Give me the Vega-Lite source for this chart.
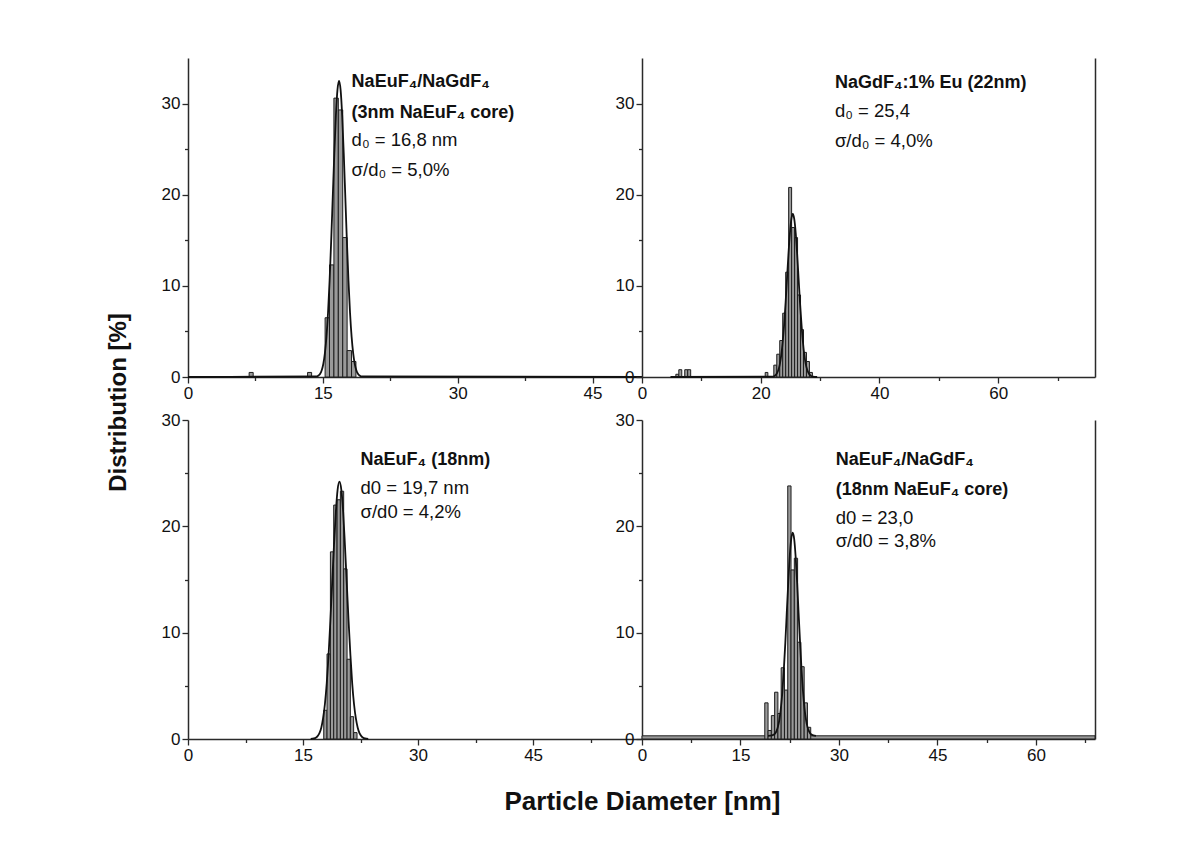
{
 "$schema": "https://vega.github.io/schema/vega-lite/v6.json",
 "background": "white",
 "padding": {"left": 106, "top": 58, "right": 5, "bottom": 5},
 "config": {
  "font": "Liberation Sans",
  "view": {"stroke": null},
  "text": {"font": "Liberation Sans"},
  "axis": {"grid": false, "domainColor": "#2a2a2a", "domainWidth": 1.5, "tickColor": "#2a2a2a", "tickWidth": 1.3, "tickSize": 5,
   "labelFont": "Liberation Sans", "labelFontSize": 17, "labelColor": "#111", "labelPadding": 2,
   "labelOverlap": false, "labelFlush": false, "labelBound": false,
   "titleFont": "Liberation Sans", "titleFontSize": 24, "titleFontWeight": "bold", "titleColor": "#111"}
 },
 "datasets": {
  "histA": [{"lo":6.8,"hi":7.25,"pct":0.5},{"lo":13.3,"hi":13.75,"pct":0.5},{"lo":15.25,"hi":15.74,"pct":6.5},{"lo":15.74,"hi":16.23,"pct":12.3},{"lo":16.23,"hi":16.72,"pct":30.6},{"lo":16.72,"hi":17.21,"pct":29.3},{"lo":17.21,"hi":17.7,"pct":15.3},{"lo":17.7,"hi":18.19,"pct":2.9},{"lo":18.19,"hi":18.68,"pct":1.7}],
  "fitA": [{"d":0,"pct":0},{"d":14.35,"pct":0.07},{"d":14.525,"pct":0.17},{"d":14.7,"pct":0.36},{"d":14.875,"pct":0.74},{"d":15.05,"pct":1.43},{"d":15.225,"pct":2.59},{"d":15.4,"pct":4.4},{"d":15.575,"pct":7.03},{"d":15.75,"pct":10.55},{"d":15.925,"pct":14.88},{"d":16.1,"pct":19.71},{"d":16.275,"pct":24.53},{"d":16.45,"pct":28.68},{"d":16.625,"pct":31.5},{"d":16.8,"pct":32.5},{"d":16.975,"pct":31.5},{"d":17.15,"pct":28.68},{"d":17.325,"pct":24.53},{"d":17.5,"pct":19.71},{"d":17.675,"pct":14.88},{"d":17.85,"pct":10.55},{"d":18.025,"pct":7.03},{"d":18.2,"pct":4.4},{"d":18.375,"pct":2.59},{"d":18.55,"pct":1.43},{"d":18.725,"pct":0.74},{"d":18.9,"pct":0.36},{"d":19.075,"pct":0.17},{"d":19.25,"pct":0.07},{"d":50.5,"pct":0}],
  "labA": [{"d":18.2,"pct":31.8,"text":"NaEuF₄/NaGdF₄","kind":"head"},{"d":18.2,"pct":28.4,"text":"(3nm NaEuF₄ core)","kind":"head"},{"d":18.2,"pct":25.3,"text":"d₀ = 16,8 nm","kind":"stat"},{"d":18.2,"pct":22.0,"text":"σ/d₀ = 5,0%","kind":"stat"}],
  "histB": [{"lo":5.7,"hi":6.2,"pct":0.3},{"lo":6.2,"hi":6.7,"pct":0.8},{"lo":7.2,"hi":7.7,"pct":0.8},{"lo":7.7,"hi":8.2,"pct":0.8},{"lo":20.75,"hi":21.2,"pct":0.5},{"lo":22.2,"hi":22.7,"pct":1.3},{"lo":22.7,"hi":23.2,"pct":2.5},{"lo":23.2,"hi":23.7,"pct":4.0},{"lo":23.7,"hi":24.2,"pct":7.0},{"lo":24.2,"hi":24.7,"pct":11.5},{"lo":24.7,"hi":25.2,"pct":20.8},{"lo":25.2,"hi":25.7,"pct":16.4},{"lo":25.7,"hi":26.2,"pct":15.3},{"lo":26.2,"hi":26.7,"pct":9.0},{"lo":26.7,"hi":27.2,"pct":5.2},{"lo":27.2,"hi":27.7,"pct":2.7},{"lo":27.7,"hi":28.2,"pct":1.7},{"lo":28.2,"hi":28.7,"pct":0.5}],
  "fitB": [{"d":4.8,"pct":0},{"d":22.0,"pct":0.04},{"d":22.25,"pct":0.09},{"d":22.49,"pct":0.2},{"d":22.73,"pct":0.41},{"d":22.98,"pct":0.79},{"d":23.22,"pct":1.42},{"d":23.46,"pct":2.42},{"d":23.7,"pct":3.87},{"d":23.95,"pct":5.81},{"d":24.19,"pct":8.19},{"d":24.43,"pct":10.86},{"d":24.67,"pct":13.51},{"d":24.92,"pct":15.8},{"d":25.16,"pct":17.35},{"d":25.4,"pct":17.9},{"d":25.64,"pct":17.35},{"d":25.89,"pct":15.8},{"d":26.13,"pct":13.51},{"d":26.37,"pct":10.86},{"d":26.61,"pct":8.19},{"d":26.86,"pct":5.81},{"d":27.1,"pct":3.87},{"d":27.34,"pct":2.42},{"d":27.58,"pct":1.42},{"d":27.83,"pct":0.79},{"d":28.07,"pct":0.41},{"d":28.31,"pct":0.2},{"d":28.55,"pct":0.09},{"d":28.8,"pct":0.04},{"d":29.5,"pct":0}],
  "labB": [{"d":32.5,"pct":31.7,"text":"NaGdF₄:1% Eu (22nm)","kind":"head"},{"d":32.5,"pct":28.5,"text":"d₀ = 25,4","kind":"stat"},{"d":32.5,"pct":25.2,"text":"σ/d₀ = 4,0%","kind":"stat"}],
  "histC": [{"lo":17.7,"hi":18.13,"pct":2.7},{"lo":18.13,"hi":18.57,"pct":8.0},{"lo":18.57,"hi":19.0,"pct":17.6},{"lo":19.0,"hi":19.44,"pct":22.0},{"lo":19.44,"hi":19.87,"pct":22.5},{"lo":19.87,"hi":20.3,"pct":23.3},{"lo":20.3,"hi":20.74,"pct":16.0},{"lo":20.74,"hi":21.17,"pct":7.5},{"lo":21.17,"hi":21.6,"pct":2.1},{"lo":21.6,"hi":22.04,"pct":0.6}],
  "fitC": [{"d":16.0,"pct":0},{"d":16.43,"pct":0.05},{"d":16.66,"pct":0.12},{"d":16.9,"pct":0.27},{"d":17.14,"pct":0.55},{"d":17.38,"pct":1.06},{"d":17.61,"pct":1.93},{"d":17.85,"pct":3.27},{"d":18.09,"pct":5.23},{"d":18.33,"pct":7.86},{"d":18.56,"pct":11.08},{"d":18.8,"pct":14.68},{"d":19.04,"pct":18.27},{"d":19.28,"pct":21.36},{"d":19.51,"pct":23.45},{"d":19.75,"pct":24.2},{"d":19.99,"pct":23.45},{"d":20.23,"pct":21.36},{"d":20.46,"pct":18.27},{"d":20.7,"pct":14.68},{"d":20.94,"pct":11.08},{"d":21.18,"pct":7.86},{"d":21.41,"pct":5.23},{"d":21.65,"pct":3.27},{"d":21.89,"pct":1.93},{"d":22.13,"pct":1.06},{"d":22.36,"pct":0.55},{"d":22.6,"pct":0.27},{"d":22.84,"pct":0.12},{"d":23.08,"pct":0.05},{"d":23.5,"pct":0}],
  "labC": [{"d":22.5,"pct":25.8,"text":"NaEuF₄ (18nm)","kind":"head"},{"d":22.5,"pct":23.0,"text":"d0 = 19,7 nm","kind":"stat"},{"d":22.5,"pct":20.8,"text":"σ/d0 = 4,2%","kind":"stat"}],
  "histD": [{"lo":0,"hi":69,"pct":0.3},{"lo":18.7,"hi":19.2,"pct":3.4},{"lo":19.2,"hi":19.7,"pct":0.8},{"lo":19.7,"hi":20.2,"pct":2.2},{"lo":20.2,"hi":20.7,"pct":4.4},{"lo":20.7,"hi":21.2,"pct":2.4},{"lo":21.2,"hi":21.7,"pct":6.7},{"lo":21.7,"hi":22.2,"pct":4.6},{"lo":22.2,"hi":22.7,"pct":23.8},{"lo":22.7,"hi":23.2,"pct":15.9},{"lo":23.2,"hi":23.7,"pct":17.0},{"lo":23.7,"hi":24.2,"pct":9.1},{"lo":24.2,"hi":24.7,"pct":6.8},{"lo":24.7,"hi":25.2,"pct":3.4},{"lo":25.2,"hi":25.7,"pct":1.1}],
  "fitD": [{"d":19.2,"pct":0.3},{"d":19.8,"pct":0.34},{"d":20.03,"pct":0.4},{"d":20.25,"pct":0.51},{"d":20.48,"pct":0.74},{"d":20.7,"pct":1.14},{"d":20.93,"pct":1.82},{"d":21.15,"pct":2.88},{"d":21.38,"pct":4.43},{"d":21.6,"pct":6.5},{"d":21.83,"pct":9.04},{"d":22.05,"pct":11.88},{"d":22.28,"pct":14.72},{"d":22.5,"pct":17.16},{"d":22.73,"pct":18.81},{"d":22.95,"pct":19.4},{"d":23.18,"pct":18.81},{"d":23.4,"pct":17.16},{"d":23.63,"pct":14.72},{"d":23.85,"pct":11.88},{"d":24.08,"pct":9.04},{"d":24.3,"pct":6.5},{"d":24.53,"pct":4.43},{"d":24.75,"pct":2.88},{"d":24.98,"pct":1.82},{"d":25.2,"pct":1.14},{"d":25.43,"pct":0.74},{"d":25.65,"pct":0.51},{"d":25.88,"pct":0.4},{"d":26.1,"pct":0.34},{"d":26.5,"pct":0.3}],
  "labD": [{"d":29.5,"pct":25.8,"text":"NaEuF₄/NaGdF₄","kind":"head"},{"d":29.5,"pct":22.9,"text":"(18nm NaEuF₄ core)","kind":"head"},{"d":29.5,"pct":20.2,"text":"d0 = 23,0","kind":"stat"},{"d":29.5,"pct":18.1,"text":"σ/d0 = 3,8%","kind":"stat"}]
 },
 "columns": 2,
 "spacing": {"row": 43, "column": 0},
 "bounds": "flush",
 "concat": [
  {
   "width": 454, "height": 319,
   "layer": [
    {"data": {"name": "histA"}, "mark": {"type": "rect", "fill": "#9a9a9a", "stroke": "#1e1e1e", "strokeWidth": 1},
     "encoding": {
      "x": {"field": "lo", "type": "quantitative", "title": null, "scale": {"domain": [0, 50.5], "nice": false, "zero": false},
       "axis": {"values": [0,7.5,15,22.5,30,37.5,45], "labelExpr": "datum.value % 15 === 0 ? datum.label : ''",
        "tickSize": {"condition": {"test": "datum.value % 15 === 0", "value": 6}, "value": 3.5}}},
      "x2": {"field": "hi"},
      "y": {"field": "pct", "type": "quantitative", "title": "Distribution [%]", "scale": {"domain": [0, 35], "nice": false},
       "axis": {"titleX": -70, "titleY": 344, "titleAngle": 270, "titleAlign": "center", "titleBaseline": "middle",
        "values": [0,5,10,15,20,25,30], "labelExpr": "datum.value % 10 === 0 ? datum.label : ''",
        "tickSize": {"condition": {"test": "datum.value % 10 === 0", "value": 6}, "value": 3.5}}},
      "y2": {"datum": 0}
     }},
    {"data": {"name": "fitA"}, "mark": {"type": "line", "color": "#111", "strokeWidth": 1.8, "interpolate": "monotone"},
     "encoding": {"x": {"field": "d", "type": "quantitative", "title": null}, "y": {"field": "pct", "type": "quantitative", "title": "Distribution [%]"}}},
    {"data": {"name": "labA"}, "transform": [{"filter": "datum.kind === 'head'"}],
     "mark": {"type": "text", "align": "left", "baseline": "alphabetic", "fontSize": 18, "fontWeight": "bold", "color": "#111"},
     "encoding": {"x": {"field": "d", "type": "quantitative", "title": null}, "y": {"field": "pct", "type": "quantitative", "title": "Distribution [%]"}, "text": {"field": "text"}}},
    {"data": {"name": "labA"}, "transform": [{"filter": "datum.kind === 'stat'"}],
     "mark": {"type": "text", "align": "left", "baseline": "alphabetic", "fontSize": 18.5, "color": "#111"},
     "encoding": {"x": {"field": "d", "type": "quantitative", "title": null}, "y": {"field": "pct", "type": "quantitative", "title": "Distribution [%]"}, "text": {"field": "text"}}}
   ]
  },
  {
   "width": 453, "height": 319,
   "resolve": {"axis": {"y": "independent"}},
   "layer": [
    {"data": {"name": "histB"}, "mark": {"type": "rect", "fill": "#9a9a9a", "stroke": "#1e1e1e", "strokeWidth": 1},
     "encoding": {
      "x": {"field": "lo", "type": "quantitative", "title": null, "scale": {"domain": [0, 76.3], "nice": false, "zero": false},
       "axis": {"values": [0,10,20,30,40,50,60,70], "labelExpr": "datum.value % 20 === 0 ? datum.label : ''",
        "tickSize": {"condition": {"test": "datum.value % 20 === 0", "value": 6}, "value": 3.5}}},
      "x2": {"field": "hi"},
      "y": {"field": "pct", "type": "quantitative", "title": null, "scale": {"domain": [0, 35], "nice": false},
       "axis": {"values": [0,5,10,15,20,25,30], "labelExpr": "datum.value % 10 === 0 ? datum.label : ''",
        "tickSize": {"condition": {"test": "datum.value % 10 === 0", "value": 6}, "value": 3.5}}},
      "y2": {"datum": 0}
     }},
    {"data": {"name": "fitB"}, "mark": {"type": "line", "color": "#111", "strokeWidth": 1.8, "interpolate": "monotone"},
     "encoding": {"x": {"field": "d", "type": "quantitative", "title": null},
      "y": {"field": "pct", "type": "quantitative", "title": null, "axis": {"orient": "right", "labels": false, "ticks": false}}}},
    {"data": {"name": "labB"}, "transform": [{"filter": "datum.kind === 'head'"}],
     "mark": {"type": "text", "align": "left", "baseline": "alphabetic", "fontSize": 18, "fontWeight": "bold", "color": "#111"},
     "encoding": {"x": {"field": "d", "type": "quantitative", "title": null}, "y": {"field": "pct", "type": "quantitative", "axis": null}, "text": {"field": "text"}}},
    {"data": {"name": "labB"}, "transform": [{"filter": "datum.kind === 'stat'"}],
     "mark": {"type": "text", "align": "left", "baseline": "alphabetic", "fontSize": 18.5, "color": "#111"},
     "encoding": {"x": {"field": "d", "type": "quantitative", "title": null}, "y": {"field": "pct", "type": "quantitative", "axis": null}, "text": {"field": "text"}}}
   ]
  },
  {
   "width": 454, "height": 319,
   "layer": [
    {"data": {"name": "histC"}, "mark": {"type": "rect", "fill": "#9a9a9a", "stroke": "#1e1e1e", "strokeWidth": 1},
     "encoding": {
      "x": {"field": "lo", "type": "quantitative", "title": "Particle Diameter [nm]", "scale": {"domain": [0, 59.2], "nice": false, "zero": false},
       "axis": {"titleX": 454, "titleY": 62, "titleAlign": "center", "titleBaseline": "middle", "titleFontSize": 26,
        "values": [0,7.5,15,22.5,30,37.5,45,52.5], "labelExpr": "datum.value % 15 === 0 ? datum.label : ''",
        "tickSize": {"condition": {"test": "datum.value % 15 === 0", "value": 6}, "value": 3.5}}},
      "x2": {"field": "hi"},
      "y": {"field": "pct", "type": "quantitative", "title": null, "scale": {"domain": [0, 30], "nice": false},
       "axis": {"values": [0,5,10,15,20,25,30], "labelExpr": "datum.value % 10 === 0 ? datum.label : ''",
        "tickSize": {"condition": {"test": "datum.value % 10 === 0", "value": 6}, "value": 3.5}}},
      "y2": {"datum": 0}
     }},
    {"data": {"name": "fitC"}, "mark": {"type": "line", "color": "#111", "strokeWidth": 1.8, "interpolate": "monotone"},
     "encoding": {"x": {"field": "d", "type": "quantitative", "title": "Particle Diameter [nm]"}, "y": {"field": "pct", "type": "quantitative", "title": null}}},
    {"data": {"name": "labC"}, "transform": [{"filter": "datum.kind === 'head'"}],
     "mark": {"type": "text", "align": "left", "baseline": "alphabetic", "fontSize": 18, "fontWeight": "bold", "color": "#111"},
     "encoding": {"x": {"field": "d", "type": "quantitative", "title": "Particle Diameter [nm]"}, "y": {"field": "pct", "type": "quantitative", "title": null}, "text": {"field": "text"}}},
    {"data": {"name": "labC"}, "transform": [{"filter": "datum.kind === 'stat'"}],
     "mark": {"type": "text", "align": "left", "baseline": "alphabetic", "fontSize": 18.5, "color": "#111"},
     "encoding": {"x": {"field": "d", "type": "quantitative", "title": "Particle Diameter [nm]"}, "y": {"field": "pct", "type": "quantitative", "title": null}, "text": {"field": "text"}}}
   ]
  },
  {
   "width": 453, "height": 319,
   "resolve": {"axis": {"y": "independent"}},
   "layer": [
    {"data": {"name": "histD"}, "mark": {"type": "rect", "fill": "#9a9a9a", "stroke": "#1e1e1e", "strokeWidth": 1},
     "encoding": {
      "x": {"field": "lo", "type": "quantitative", "title": null, "scale": {"domain": [0, 69], "nice": false, "zero": false},
       "axis": {"values": [0,7.5,15,22.5,30,37.5,45,52.5,60,67.5], "labelExpr": "datum.value % 15 === 0 ? datum.label : ''",
        "tickSize": {"condition": {"test": "datum.value % 15 === 0", "value": 6}, "value": 3.5}}},
      "x2": {"field": "hi"},
      "y": {"field": "pct", "type": "quantitative", "title": null, "scale": {"domain": [0, 30], "nice": false},
       "axis": {"values": [0,5,10,15,20,25,30], "labelExpr": "datum.value % 10 === 0 ? datum.label : ''",
        "tickSize": {"condition": {"test": "datum.value % 10 === 0", "value": 6}, "value": 3.5}}},
      "y2": {"datum": 0}
     }},
    {"data": {"name": "fitD"}, "mark": {"type": "line", "color": "#111", "strokeWidth": 1.8, "interpolate": "monotone"},
     "encoding": {"x": {"field": "d", "type": "quantitative", "title": null},
      "y": {"field": "pct", "type": "quantitative", "title": null, "axis": {"orient": "right", "labels": false, "ticks": false}}}},
    {"data": {"name": "labD"}, "transform": [{"filter": "datum.kind === 'head'"}],
     "mark": {"type": "text", "align": "left", "baseline": "alphabetic", "fontSize": 18, "fontWeight": "bold", "color": "#111"},
     "encoding": {"x": {"field": "d", "type": "quantitative", "title": null}, "y": {"field": "pct", "type": "quantitative", "axis": null}, "text": {"field": "text"}}},
    {"data": {"name": "labD"}, "transform": [{"filter": "datum.kind === 'stat'"}],
     "mark": {"type": "text", "align": "left", "baseline": "alphabetic", "fontSize": 18.5, "color": "#111"},
     "encoding": {"x": {"field": "d", "type": "quantitative", "title": null}, "y": {"field": "pct", "type": "quantitative", "axis": null}, "text": {"field": "text"}}}
   ]
  }
 ]
}
